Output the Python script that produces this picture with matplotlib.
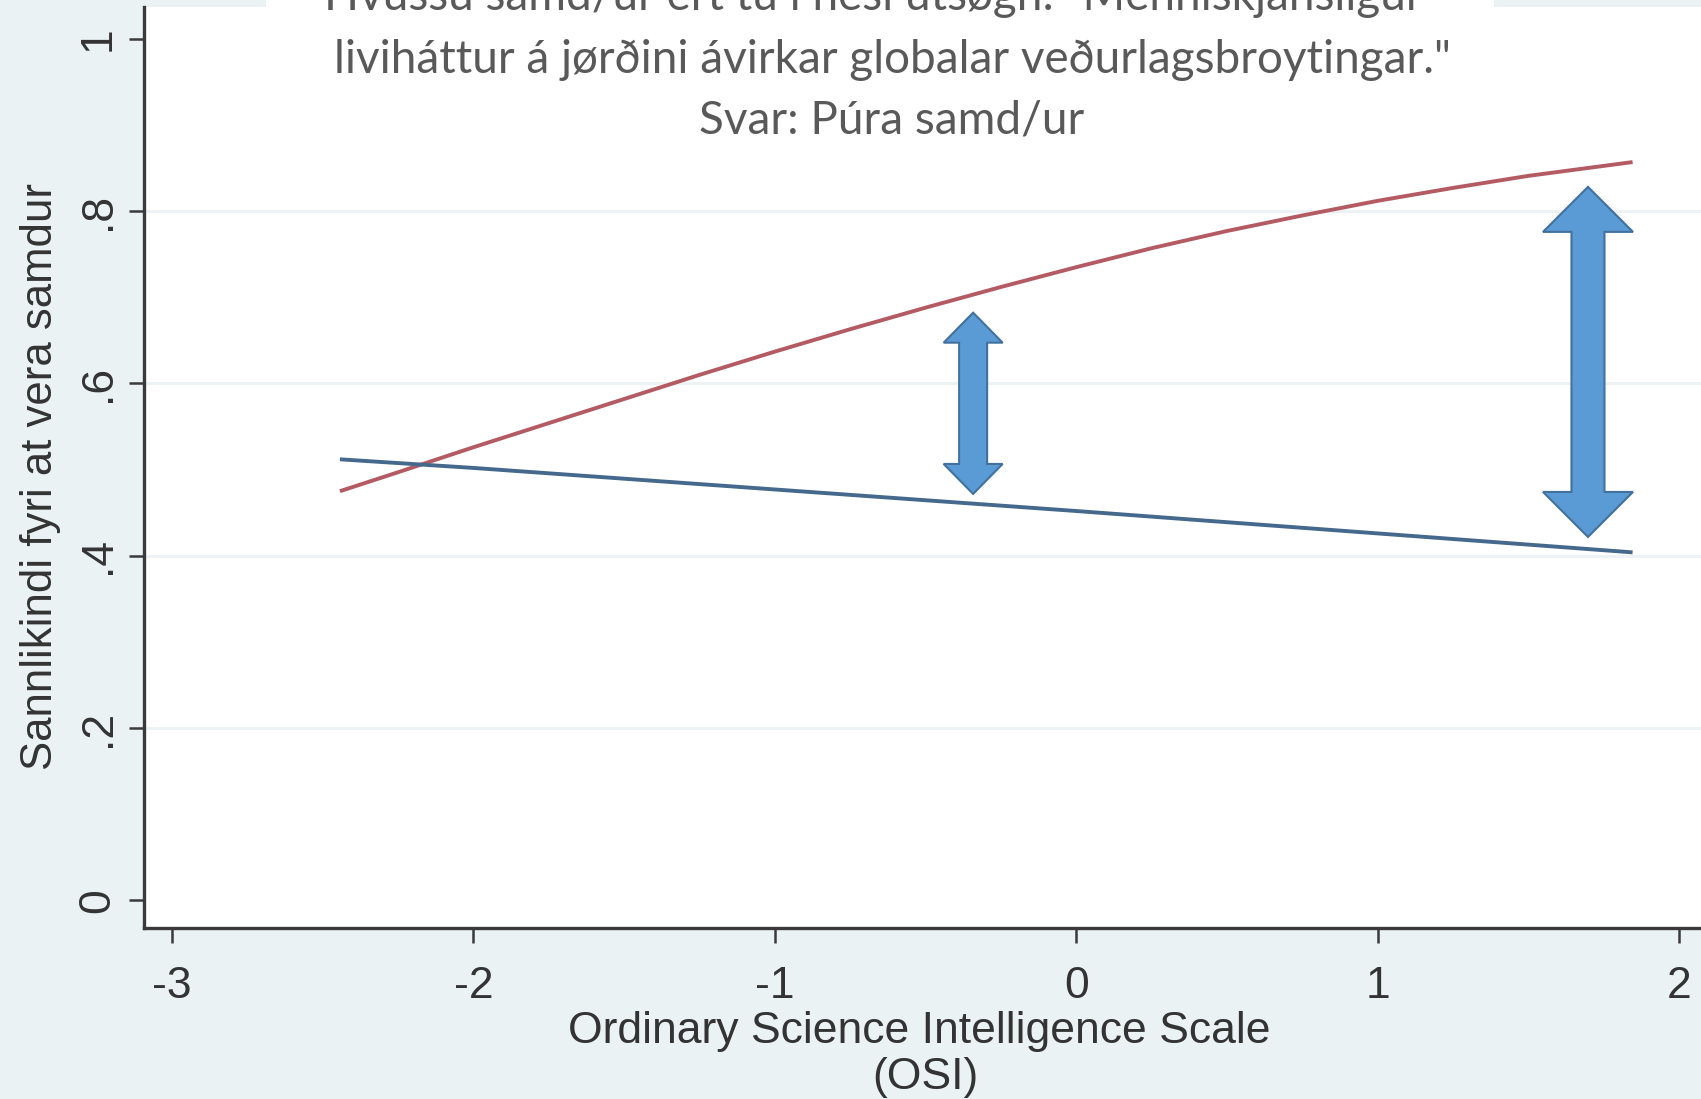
import matplotlib
matplotlib.use("Agg")
import matplotlib.pyplot as plt
from matplotlib.patches import Polygon, Rectangle
from matplotlib.transforms import IdentityTransform
from matplotlib import font_manager

# ---------------- data ----------------
red_x = [-2.443, -2.25, -2.0, -1.75, -1.5, -1.25, -1.0, -0.75, -0.5, -0.25,
         0.0, 0.25, 0.5, 0.75, 1.0, 1.25, 1.5, 1.846]
red_y = [0.475, 0.497, 0.526, 0.554, 0.582, 0.610, 0.637, 0.663, 0.688, 0.712,
         0.735, 0.757, 0.777, 0.795, 0.812, 0.827, 0.841, 0.857]
blue_x = [-2.443, -2.0, -1.0, 0.0, 1.0, 1.846]
blue_y = [0.512, 0.502, 0.477, 0.452, 0.426, 0.404]

x_ticks = [-3, -2, -1, 0, 1, 2]
x_ticklabels = ["-3", "-2", "-1", "0", "1", "2"]
y_ticks = [0, 0.2, 0.4, 0.6, 0.8, 1.0]
y_ticklabels = ["0", ".2", ".4", ".6", ".8", "1"]

arrow_x = [-0.342, 1.698]
arrow_lo = [0.4718, 0.4219]
arrow_hi = [0.6822, 0.8282]

title_lines = ['Hvussu samd/ur ert tú í hesi útsøgn: "Menniskjansligur',
               'liviháttur á jørðini ávirkar globalar veðurlagsbroytingar."',
               'Svar: Púra samd/ur']
x_label_1 = "Ordinary Science Intelligence Scale"
x_label_2 = "(OSI)"
y_label = "Sannlikindi fyri at vera samdur"

# ---------------- style ----------------
names = {f.name for f in font_manager.fontManager.ttflist}
narrow = [f for f in ["Liberation Sans Narrow", "Liberation Sans", "DejaVu Sans"] if f in names]
titlefont = [f for f in ["Lato", "Open Sans", "DejaVu Sans"] if f in names]

BG = "#EAF2F3"
W, H = 1701, 1099
fig = plt.figure(figsize=(W / 100, H / 100), dpi=100, facecolor=BG)

def px(x, y):
    return x / W, 1 - y / H

left, bottom = px(144, 928)
_, top = px(0, 7)
ax = fig.add_axes([left, bottom, 1.0 - left, top - bottom])
ax.set_facecolor("white")
ax.set_xlim(-3.093, 2.073)
ax.set_ylim(-0.032, 1.037)

for s in ["top", "right"]:
    ax.spines[s].set_visible(False)
for s in ["left", "bottom"]:
    ax.spines[s].set_color("#3a3a3a")
    ax.spines[s].set_linewidth(2.4)

ax.set_yticks(y_ticks)
ax.set_yticklabels(y_ticklabels, rotation=90, va="center", ha="center")
ax.set_xticks(x_ticks)
ax.set_xticklabels(x_ticklabels)
ax.tick_params(axis="y", length=11, width=1.8, color="#3a3a3a", pad=22,
               labelsize=32, labelcolor="#333333")
ax.tick_params(axis="x", length=11, width=1.8, color="#3a3a3a", pad=16,
               labelsize=32, labelcolor="#333333")
for lab in ax.get_xticklabels() + ax.get_yticklabels():
    lab.set_family(narrow)

for yv in y_ticks[1:5]:
    ax.axhline(yv, color="#EDF3F4", lw=2.2, zorder=0)

ax.plot(red_x, red_y, color="#B45A63", lw=2.8, zorder=3, solid_capstyle="butt")
ax.plot(blue_x, blue_y, color="#45688D", lw=2.8, zorder=3, solid_capstyle="butt")

# double-headed block arrows (pixel sizes)
fig.canvas.draw()
specs = [(59, 28, 30), (90, 33, 45)]
for xa, lo, hi, (hw, sw, hl) in zip(arrow_x, arrow_lo, arrow_hi, specs):
    cx, ylo = ax.transData.transform((xa, lo))
    _, yhi = ax.transData.transform((xa, hi))
    pts = [(cx, yhi), (cx + hw / 2, yhi - hl), (cx + sw / 2, yhi - hl),
           (cx + sw / 2, ylo + hl), (cx + hw / 2, ylo + hl), (cx, ylo),
           (cx - hw / 2, ylo + hl), (cx - sw / 2, ylo + hl),
           (cx - sw / 2, yhi - hl), (cx - hw / 2, yhi - hl)]
    poly = Polygon(pts, closed=True, facecolor="#5B9BD5", edgecolor="#41719C",
                   lw=1.5, transform=IdentityTransform(), zorder=5)
    fig.add_artist(poly)

# title box
bx0, _ = px(266, 0)
bx1, _ = px(1494, 0)
_, by0 = px(0, 140)
fig.add_artist(Rectangle((bx0, by0), bx1 - bx0, 1 - by0, transform=fig.transFigure,
                         facecolor="white", edgecolor="none", zorder=4))

tc = "#595959"
for (xx, yy), txt in zip([(873, -3), (892, 60), (892, 121)], title_lines):
    fx, fy = px(xx, yy)
    fig.text(fx, fy, txt, ha="center", va="center", fontsize=33, color=tc,
             family=titlefont, zorder=6)

fx, fy = px(919, 1032)
fig.text(fx, fy, x_label_1, ha="center", va="center", fontsize=32,
         color="#333333", family=narrow)
fx, fy = px(925, 1077)
fig.text(fx, fy, x_label_2, ha="center", va="center", fontsize=32,
         color="#333333", family=narrow)
fx, fy = px(41, 476)
fig.text(fx, fy, y_label, ha="center", va="center", fontsize=31.5, rotation=90,
         color="#333333", family=narrow)

fig.savefig("out.png", dpi=100, facecolor=BG)
